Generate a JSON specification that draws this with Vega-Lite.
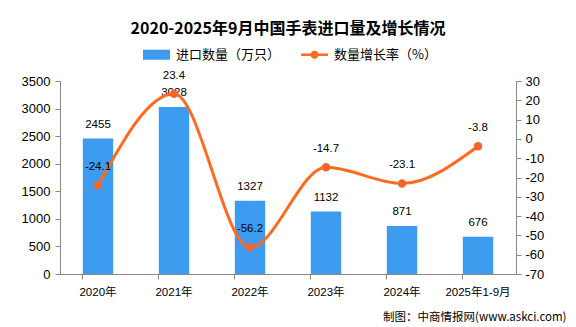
{
  "$schema": "https://vega.github.io/schema/vega-lite/v6.json",
  "width": 456,
  "height": 193,
  "autosize": {"type": "none"},
  "padding": {"left": 60, "top": 81, "right": 60, "bottom": 53},
  "background": "white",
  "title": {
    "text": "2020-2025年9月中国手表进口量及增长情况",
    "font": "Noto Sans CJK SC",
    "fontSize": 16,
    "fontWeight": "bold",
    "color": "#000000",
    "anchor": "middle",
    "offset": 4
  },
  "data": {
    "values": [
      {"year": "2020年", "qty": 2455, "growth": -24.1},
      {"year": "2021年", "qty": 3028, "growth": 23.4},
      {"year": "2022年", "qty": 1327, "growth": -56.2},
      {"year": "2023年", "qty": 1132, "growth": -14.7},
      {"year": "2024年", "qty": 871, "growth": -23.1},
      {"year": "2025年1-9月", "qty": 676, "growth": -3.8}
    ]
  },
  "config": {
    "view": {"stroke": null},
    "axis": {
      "grid": false,
      "domainColor": "#888888",
      "tickColor": "#888888",
      "labelColor": "#000000",
      "labelFont": "Liberation Sans, Noto Sans CJK SC",
      "labelFontSize": 13,
      "titleColor": "#000000",
      "tickSize": 5
    }
  },
  "encoding": {
    "x": {
      "field": "year",
      "type": "nominal",
      "sort": null,
      "scale": {"paddingInner": 0.6, "paddingOuter": 0.3},
      "axis": {
        "labelAngle": 0,
        "bandPosition": 0,
        "labelFontSize": 11.5,
        "labelPadding": 7,
        "title": "制图：中商情报网(www.askci.com)",
        "titleFont": "Noto Sans CJK SC",
        "titleFontSize": 11.5,
        "titleFontWeight": "normal",
        "titleAnchor": "end",
        "titleAlign": "right",
        "titleBaseline": "middle",
        "titleX": 506,
        "titleY": 43
      }
    }
  },
  "layer": [
    {
      "encoding": {
        "y": {
          "field": "qty",
          "type": "quantitative",
          "scale": {"domain": [0, 3500]},
          "axis": {
            "values": [0, 500, 1000, 1500, 2000, 2500, 3000, 3500],
            "format": "d",
            "title": null,
            "labelPadding": 5
          }
        }
      },
      "layer": [
        {
          "mark": {"type": "bar", "color": "#3e9cf0"},
          "encoding": {
            "color": {
              "datum": "进口数量（万只）",
              "type": "nominal",
              "scale": {"domain": ["进口数量（万只）", "数量增长率（%）"], "range": ["#3e9cf0", "#ff6a1f"]},
              "legend": {
                "title": null,
                "orient": "none",
                "direction": "horizontal",
                "legendX": 83,
                "legendY": -40,
                "columnPadding": 20,
                "labelFont": "Noto Sans CJK SC",
                "labelFontSize": 13,
                "labelColor": "#000000",
                "labelOffset": 6,
                "symbolSize": 729,
                "encode": {
                  "symbols": {
                    "update": {
                      "shape": {"signal": "datum.value == '进口数量（万只）' ? 'M-1,-0.37H1V0.37H-1Z' : 'M-1,-0.1H1V0.1H-1Z M-0.3,0A0.3,0.3,0,1,1,0.3,0A0.3,0.3,0,1,1,-0.3,0Z'"},
                      "fill": {"signal": "datum.value == '进口数量（万只）' ? '#3e9cf0' : '#ff6a1f'"},
                      "stroke": {"value": "transparent"},
                      "strokeWidth": {"value": 0},
                      "opacity": {"value": 1}
                    }
                  }
                }
              }
            }
          }
        },
        {
          "mark": {"type": "text", "baseline": "middle", "dy": -14, "font": "Liberation Sans", "fontSize": 11.5, "color": "#000000"},
          "encoding": {
            "text": {"field": "qty", "type": "nominal"}
          }
        }
      ]
    },
    {
      "encoding": {
        "y": {
          "field": "growth",
          "type": "quantitative",
          "scale": {"domain": [-70, 30]},
          "axis": {
            "orient": "right",
            "values": [-70, -60, -50, -40, -30, -20, -10, 0, 10, 20, 30],
            "title": null,
            "labelPadding": 4,
            "labelExpr": "'' + datum.value"
          }
        }
      },
      "layer": [
        {
          "mark": {"type": "line", "interpolate": "monotone", "strokeWidth": 3},
          "encoding": {
            "color": {"datum": "数量增长率（%）", "type": "nominal"}
          }
        },
        {
          "mark": {"type": "point", "filled": true, "size": 70, "color": "#f4652a", "opacity": 1},
          "encoding": {}
        },
        {
          "mark": {"type": "text", "baseline": "middle", "dy": -18, "font": "Liberation Sans", "fontSize": 11.5, "color": "#000000"},
          "encoding": {
            "text": {"field": "growth", "type": "nominal"}
          }
        }
      ]
    }
  ],
  "resolve": {"scale": {"y": "independent"}}
}
